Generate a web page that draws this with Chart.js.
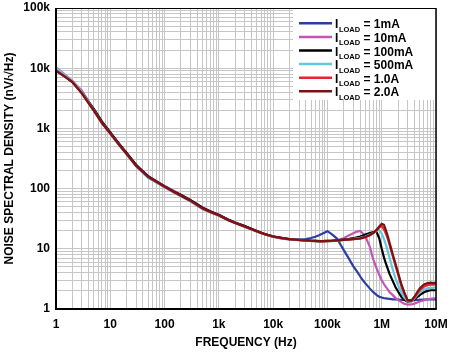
<!DOCTYPE html>
<html>
<head>
<meta charset="utf-8">
<script src="https://cdn.jsdelivr.net/npm/chart.js@4/dist/chart.umd.min.js"></script>
<style>
html,body{margin:0;padding:0;background:#fff;}
#wrap{width:450px;height:353px;position:relative;}
</style>
</head>
<body>
<div id="wrap"><canvas id="c" width="450" height="353"></canvas></div>
<script>
// Frequency axis (Hz) shared by all series
const frequencies = [1,1.5,2,3,4,5,7,10,15,20,30,50,70,100,150,200,300,500,700,1e3,1.5e3,2e3,3e3,5e3,7e3,1e4,1.5e4,2e4,3e4,
  4e4,5e4,6e4,7e4,8e4,1e5,1.2e5,1.5e5,2e5,2.5e5,3e5,3.5e5,4e5,4.5e5,5e5,6e5,7e5,8e5,9e5,1e6,
  1.1e6,1.2e6,1.3e6,1.4e6,1.6e6,1.8e6,2e6,2.3e6,2.6e6,3e6,3.5e6,4e6,4.5e6,5e6,6e6,7e6,8e6,9e6,1e7];

// Noise spectral density (nV/sqrt(Hz)) per load current
const load1mA = [9200,7250,5900,3950,2700,1980,1270,840,525,385,245,160,133,110,90,78.5,64,48,41.5,36.5,30.3,27.2,23.7,19.6,17.4,15.9,14.8,14.3,14.2,
  14.5,15.1,15.9,16.8,17.8,19.6,17.5,14.8,9.5,6.8,5.1,4.2,3.5,3.0,2.67,2.2,1.9,1.72,1.6,1.55,
  1.52,1.5,1.48,1.47,1.45,1.44,1.43,1.42,1.41,1.4,1.4,1.4,1.41,1.42,1.43,1.44,1.45,1.45,1.45];
const load10mA = [10300,7700,6200,4250,2800,2050,1280,850,530,390,245,161,134,111,91,79,65,48.5,42,37,30.5,27.5,24,19.8,17.6,16.1,15,14.4,14,
  13.8,13.6,13.5,13.4,13.4,13.4,13.5,13.8,15.0,16.8,18.2,19.3,19.8,18.0,16.0,11.0,6.6,4.8,3.7,3.0,
  2.6,2.3,2.1,1.9,1.7,1.52,1.42,1.3,1.22,1.18,1.19,1.23,1.28,1.33,1.4,1.45,1.48,1.5,1.5];
const load100mA = [9400,7150,5900,4000,2750,2100,1310,860,535,392,247,159,132,109,89,78,64,48,41.5,36.5,30.5,27,23.8,19.7,17.6,16,15,14.5,14.1,
  13.8,13.6,13.5,13.4,13.4,13.5,13.6,13.8,14.2,14.6,15.0,15.5,16.0,16.6,17.2,18.2,19.0,19.3,15.0,10.0,
  7.2,5.6,4.6,3.8,2.9,2.3,1.95,1.6,1.42,1.33,1.35,1.45,1.58,1.7,1.9,2.0,2.05,2.05,2.05];
const load500mA = [10100,7500,6100,4050,2700,2000,1240,820,510,370,232,150,126,104,85,74,61,45.5,40,35.3,29.5,26.5,23,19.2,17.3,15.8,14.8,14.3,13.9,
  13.6,13.4,13.3,13.2,13.2,13.3,13.4,13.6,14.0,14.3,14.6,14.9,15.2,15.6,16.0,17.2,18.4,19.6,20.5,18.0,
  14.5,11.5,9.0,7.0,4.5,3.2,2.5,1.9,1.55,1.35,1.35,1.5,1.7,1.9,2.1,2.2,2.25,2.25,2.3];
const load1A = [9200,7200,5950,3850,2600,1950,1230,820,515,375,238,156,130,107,87,76,62.5,46.5,40.5,35.8,29.8,26.8,23.3,19.4,17.4,15.9,14.9,14.4,13.9,
  13.7,13.5,13.4,13.3,13.3,13.4,13.5,13.7,14.0,14.2,14.4,14.6,14.8,15.2,15.6,16.8,18.3,20.2,22.5,24.3,
  21.0,17.5,14.5,11.5,7.5,5.2,3.8,2.4,1.8,1.38,1.35,1.55,1.8,2.05,2.35,2.5,2.55,2.55,2.6];
const load2A = [9000,7100,5900,3800,2620,1970,1240,825,518,378,240,157,131,108,88,77,63,47,41,36,29.9,26.9,23.4,19.5,17.5,16,15,14.5,14,
  13.8,13.6,13.5,13.4,13.4,13.5,13.6,13.8,14.1,14.3,14.5,14.7,14.9,15.3,15.7,16.8,18.4,20.6,23.5,26.0,
  25.0,20.0,16.0,12.5,8.0,5.6,4.0,2.6,1.9,1.4,1.38,1.6,1.9,2.2,2.55,2.7,2.75,2.7,2.75];

const seriesValues = [load1mA, load10mA, load100mA, load500mA, load1A, load2A];
const seriesNames = ['1mA','10mA','100mA','500mA','1.0A','2.0A'];
const seriesColors = ['#2b3f9e','#c455b4','#000000','#62c8e0','#e8252a','#7a1414'];

const xTickValues = [1,10,100,1e3,1e4,1e5,1e6,1e7];
const xTickLabels = ['1','10','100','1k','10k','100k','1M','10M'];
const yTickValues = [1,10,100,1e3,1e4,1e5];
const yTickLabels = ['1','10','100','1k','10k','100k'];

const FONT = '"Liberation Sans", Arial, Helvetica, sans-serif';

function minorGrid(decadeValues){
  const out = [];
  for (let d = 0; d < decadeValues.length - 1; d++){
    for (let m = 1; m <= 9; m++) out.push(m * decadeValues[d]);
  }
  out.push(decadeValues[decadeValues.length - 1]);
  return out.map(v => ({value: v}));
}

const datasets = seriesValues.map((vals, i) => ({
  label: seriesNames[i],
  data: frequencies.map((f, j) => ({x: f, y: vals[j]})),
  borderColor: seriesColors[i],
  backgroundColor: seriesColors[i],
  borderWidth: 2.2,
  pointRadius: 0,
  tension: 0,
  fill: false,
  order: seriesValues.length - 1 - i
}));

const overlay = {
  id: 'overlay',
  afterDatasetsDraw(chart){
    const ctx = chart.ctx;
    const a = chart.chartArea;
    ctx.save();
    // legend box
    ctx.fillStyle = '#fff';
    ctx.fillRect(a.right - 143, a.top, 143, 92);
    for (let i = 0; i < seriesNames.length; i++){
      const base = a.top + 20.3 + i * 13.6;
      ctx.strokeStyle = seriesColors[i];
      ctx.lineWidth = 2.5;
      ctx.beginPath();
      ctx.moveTo(a.right - 137, base - 5);
      ctx.lineTo(a.right - 104, base - 5);
      ctx.stroke();
      ctx.fillStyle = '#000';
      ctx.textBaseline = 'alphabetic';
      ctx.textAlign = 'left';
      let x = a.right - 101;
      ctx.font = 'bold 12px ' + FONT;
      ctx.fillText('I', x, base);
      x += ctx.measureText('I').width + 0.6;
      ctx.font = 'bold 7.5px ' + FONT;
      ctx.fillText('LOAD', x, base + 3.4);
      x += ctx.measureText('LOAD').width;
      ctx.font = 'bold 12px ' + FONT;
      ctx.fillText(' = ' + seriesNames[i], x, base);
    }
    // frame
    ctx.strokeStyle = '#000';
    ctx.lineWidth = 1;
    ctx.beginPath(); ctx.moveTo(a.left, a.top + 0.5); ctx.lineTo(a.right, a.top + 0.5); ctx.stroke();
    ctx.lineWidth = 1.5;
    ctx.beginPath(); ctx.moveTo(a.right, a.top); ctx.lineTo(a.right, a.bottom); ctx.stroke();
    ctx.lineWidth = 2;
    ctx.beginPath(); ctx.moveTo(a.left, a.top); ctx.lineTo(a.left, a.bottom + 1); ctx.stroke();
    ctx.beginPath(); ctx.moveTo(a.left - 1, a.bottom); ctx.lineTo(a.right + 0.75, a.bottom); ctx.stroke();
    ctx.restore();
  }
};

const tickFont = {family: FONT, size: 12, weight: 'bold'};

new Chart(document.getElementById('c'), {
  type: 'line',
  data: {datasets},
  plugins: [overlay],
  options: {
    responsive: false,
    animation: false,
    events: [],
    layout: {padding: {top: 8, right: 14, left: 0, bottom: 0}},
    plugins: {legend: {display: false}, tooltip: {enabled: false}},
    scales: {
      x: {
        type: 'logarithmic',
        min: 1, max: 1e7,
        afterBuildTicks: s => { s.ticks = minorGrid(xTickValues); },
        afterFit: s => { s.height = 44; s.paddingLeft = 0; s.paddingRight = 0; },
        ticks: {
          autoSkip: false, maxRotation: 0, minRotation: 0, padding: 8, color: '#000', font: tickFont,
          callback: v => { const k = xTickValues.indexOf(v); return k >= 0 ? xTickLabels[k] : ''; }
        },
        grid: {color: '#c6c6c6', lineWidth: 1, drawTicks: false},
        border: {display: false},
        title: {display: true, text: 'FREQUENCY (Hz)', color: '#000', font: tickFont, padding: {top: 0, bottom: 3}}
      },
      y: {
        type: 'logarithmic',
        min: 1, max: 1e5,
        afterBuildTicks: s => { s.ticks = minorGrid(yTickValues); },
        afterFit: s => { s.width = 56; s.paddingTop = 0; s.paddingBottom = 0; },
        ticks: {
          autoSkip: false, padding: 6, color: '#000', font: tickFont,
          callback: v => { const k = yTickValues.indexOf(v); return k >= 0 ? yTickLabels[k] : ''; }
        },
        grid: {color: '#c6c6c6', lineWidth: 1, drawTicks: false},
        border: {display: false},
        title: {display: true, text: 'NOISE SPECTRAL DENSITY (nV/\u221AHz)', color: '#000', font: tickFont, padding: {top: 2, bottom: 0}}
      }
    }
  }
});
</script>
</body>
</html>
